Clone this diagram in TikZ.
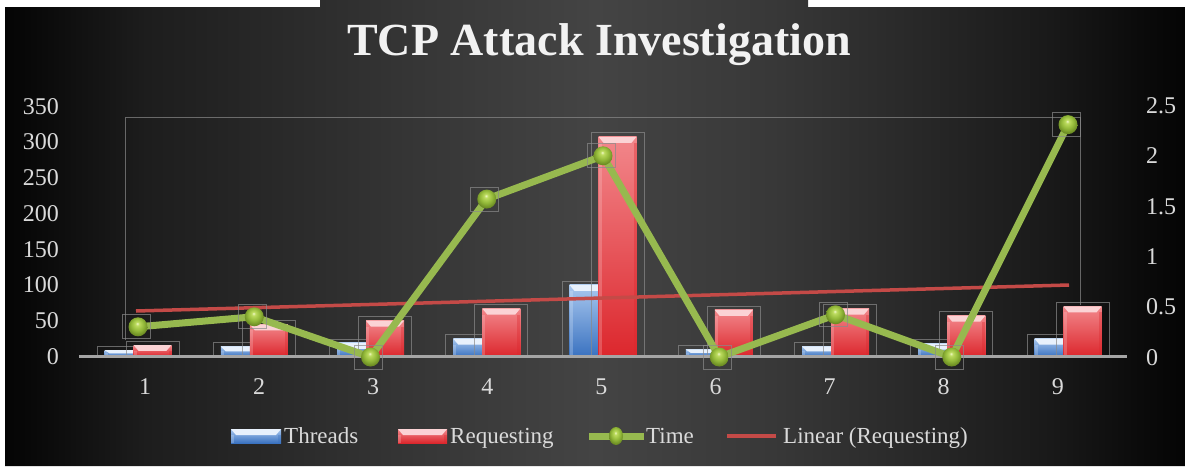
\documentclass[tikz,border=0pt]{standalone}
\usepackage{fontspec}
\setmainfont{Liberation Serif}

% palette
\definecolor{bgA}{HTML}{040404}
\definecolor{bgB}{HTML}{1D1D1D}
\definecolor{bgM}{HTML}{363636}
\definecolor{bgC}{HTML}{444444}
\definecolor{bgN}{HTML}{383838}
\definecolor{bgD}{HTML}{1A1A1A}
\definecolor{blueTop}{HTML}{A9C8EF}
\definecolor{blueBot}{HTML}{3A72C0}
\definecolor{blueHi}{HTML}{E8F1FC}
\definecolor{redTop}{HTML}{F2878B}
\definecolor{redBot}{HTML}{DC272D}
\definecolor{redHi}{HTML}{FBD3D5}
\definecolor{timeGreen}{HTML}{97B94F}
\definecolor{ballHi}{HTML}{F0F8C8}
\definecolor{ballLight}{HTML}{BCDB5E}
\definecolor{ballMid}{HTML}{94BA3A}
\definecolor{ballDark}{HTML}{6A8A22}
\definecolor{trendRed}{HTML}{C44A47}
\definecolor{axisGray}{HTML}{A5A5A5}
\definecolor{boxGray}{HTML}{8A8A8A}
\definecolor{labelGray}{HTML}{DADADA}
\definecolor{titleWhite}{HTML}{F2F2F2}

% chart background: dark at both sides, lighter towards the middle
\pgfdeclarehorizontalshading{bgshade}{100bp}{%
  color(0bp)=(bgA); color(25bp)=(bgA); color(31bp)=(bgB); color(42.5bp)=(bgM);
  color(50bp)=(bgC); color(57.5bp)=(bgN); color(69bp)=(bgD); color(75bp)=(bgA);
  color(100bp)=(bgA)}

% glossy green marker with the highlight near the top
\pgfdeclareradialshading{greenball}{\pgfpoint{-2bp}{9bp}}{%
  color(0bp)=(ballHi); color(5bp)=(ballLight); color(16bp)=(ballMid);
  color(27bp)=(ballDark); color(50bp)=(ballDark)}

% glassy column: left, right, top, bottom, colour prefix
\newcommand\glassbar[5]{%
  \pgfmathsetmacro\bandh{min(6,0.5*(#4-#3))}%
  \shade[top color=#5Top, bottom color=#5Bot] (#1,#3) rectangle (#2,#4);
  \fill[#5Hi] (#1,#3) -- (#2,#3) -- ({#2-5},{#3+\bandh}) -- ({#1+5},{#3+\bandh}) -- cycle;
  \fill[#5Hi, opacity=.25] (#1,{#3+\bandh}) rectangle ({#1+3},#4);
  \fill[#5Bot, opacity=.35] ({#2-3},{#3+\bandh}) rectangle (#2,#4);
}

\tikzset{
  selbox/.style={draw=boxGray, line width=0.8pt, opacity=.7},
  ticklbl/.style={text=labelGray, font=\fontsize{24}{28}\selectfont, inner sep=0pt},
  legendlbl/.style={text=labelGray, font=\fontsize{23}{27}\selectfont, inner sep=0pt, anchor=base west},
  titlelbl/.style={font=\fontsize{46}{50}\selectfont\bfseries, inner sep=0pt, anchor=base, text=titleWhite},
  timeline/.style={draw=timeGreen, line width=7pt, line join=round},
  trendline/.style={draw=trendRed, line width=3.5pt},
  axisline/.style={draw=axisGray, line width=3pt},
  marker/.style={shading=greenball},
}

\begin{document}
\begin{tikzpicture}[x=1pt,y=-1pt]
\useasboundingbox (0,0) rectangle (1185,466);
\fill[white] (0,0) rectangle (1185,466);
\shade[shading=bgshade] (5,7) -- (320,7) -- (320,0) -- (808,0) -- (808,7)
  -- (1185,7) -- (1185,466) -- (5,466) -- cycle;

% title
\node[titlelbl] (title) at (599,55) {TCP Attack Investigation};

% outline of the selected trend series
\draw[selbox] (125,340) -- (125,117) -- (1080,117) -- (1080,305);

% columns: Threads (blue) and Requesting (red)
\foreach \i/\b/\r in {1/9/16, 2/14/45, 3/19/50, 4/25/67, 5/100/307,
                      6/10/65, 7/14/67, 8/18/57, 9/25/70} {
  \pgfmathsetmacro\c{138+(\i-1)*116.25}
  \pgfmathsetmacro\bt{356.5-\b*0.7157}
  \pgfmathsetmacro\rt{356.5-\r*0.7157}
  \draw[selbox] (\c-41,\bt-4) rectangle (\c+12,357);
  \glassbar{\c-33.5}{\c+4.5}{\bt}{356.5}{blue}
  \draw[selbox] (\c-12,\rt-4) rectangle (\c+41,357);
  \glassbar{\c-4.5}{\c+33.5}{\rt}{356.5}{red}
}

% category axis
\coordinate (ax0) at (79,356.5);
\coordinate (ax1) at (1127,356.5);
\draw[axisline] (ax0) -- (ax1);

% linear trend of Requesting
\coordinate (tr0) at (136,311);
\coordinate (tr1) at (1069,285);
\draw[trendline] (tr0) -- (tr1);

% Time series on the secondary axis
\foreach \i/\t in {1/0.30, 2/0.40, 3/0, 4/1.57, 5/2.0, 6/0, 7/0.42, 8/0, 9/2.31}
  \coordinate (t\i) at ({138+(\i-1)*116.25},{357-\t*100.6});
\draw[timeline] (t1) -- (t2) -- (t3) -- (t4) -- (t5) -- (t6) -- (t7) -- (t8) -- (t9);
\foreach \i in {1,...,9} {
  \draw[selbox] ([shift={(-16,-12)}]t\i) rectangle ([shift={(12,12)}]t\i);
  \shade[marker] (t\i) circle (9.5);
}

% primary axis labels
\foreach \v in {0,50,...,350}
  \node[ticklbl, anchor=base east] (l\v) at (59,{356.5-\v*0.7157+8}) {\v};

% secondary axis labels
\foreach \k/\s in {1/0, 2/0.5, 3/1, 4/1.5, 5/2, 6/2.5}
  \node[ticklbl, anchor=base west] (r\k) at (1146,{357-\s*100.6+8}) {\s};

% category labels
\foreach \i in {1,...,9}
  \node[ticklbl, anchor=base] (c\i) at ({145+(\i-1)*114.1},394) {\i};

% legend
\glassbar{231}{281}{429}{443}{blue}
\node[legendlbl] (lgThreads) at (284,443) {Threads};
\glassbar{398}{447}{429}{443}{red}
\node[legendlbl] (lgRequesting) at (450,443) {Requesting};
\coordinate (lgT0) at (589,436);
\coordinate (lgT1) at (644,436);
\draw[timeline] (lgT0) -- (lgT1);
\shade[marker] (616,436) ellipse (7 and 9);
\node[legendlbl] (lgTime) at (646,443) {Time};
\coordinate (lgL0) at (727,436);
\coordinate (lgL1) at (776,436);
\draw[trendline] (lgL0) -- (lgL1);
\node[legendlbl] (lgLinear) at (783,443) {Linear (Requesting)};
\end{tikzpicture}
\end{document}
